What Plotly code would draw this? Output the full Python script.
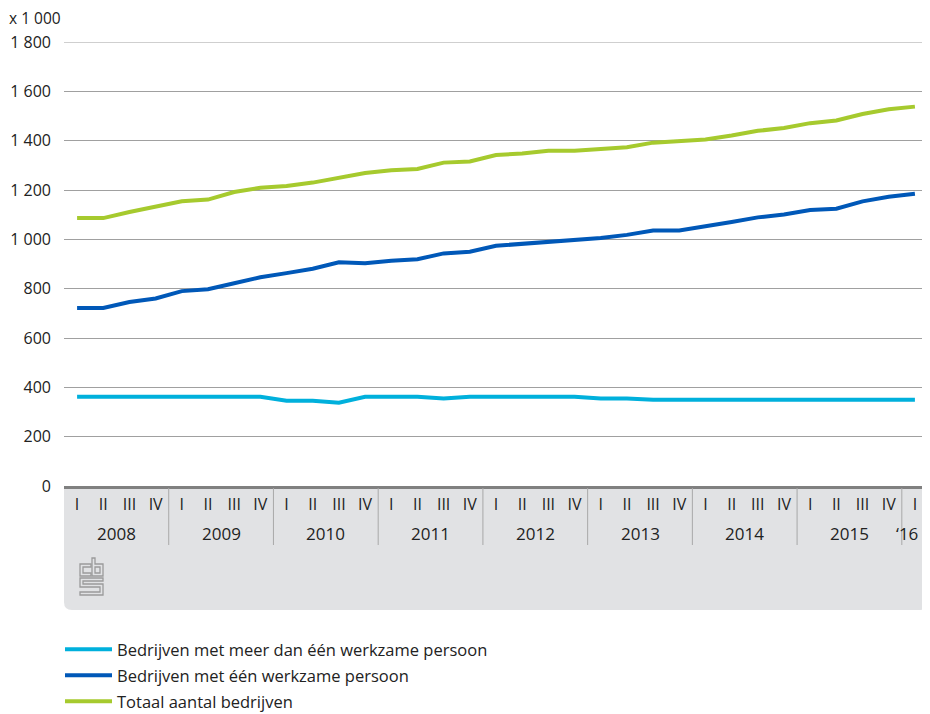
import plotly.graph_objects as go

years = ["2008", "2009", "2010", "2011", "2012", "2013", "2014", "2015", "\u201816"]
quarters = ["I", "II", "III", "IV"]
categories = [f"{y}-{q}" for y in years[:-1] for q in quarters] + ["2016-I"]
tick_labels = quarters * 8 + ["I"]

meer_dan_een = [362, 362, 362, 362, 362, 362, 362, 362,
                346, 346, 338, 362, 362, 362, 355, 362,
                362, 362, 362, 362, 355, 355, 350, 350,
                350, 350, 350, 350, 350, 350, 350, 350, 350]
een_persoon = [722, 722, 746, 760, 790, 798, 822, 846,
               863, 881, 907, 903, 913, 919, 943, 950,
               974, 981, 992, 998, 1005, 1018, 1036, 1036,
               1051, 1070, 1089, 1101, 1119, 1124, 1154, 1173, 1185]
totaal = [1086, 1086, 1111, 1131, 1154, 1161, 1192, 1209,
          1216, 1230, 1250, 1269, 1280, 1285, 1311, 1316,
          1342, 1348, 1359, 1359, 1366, 1373, 1392, 1398,
          1405, 1421, 1440, 1451, 1471, 1482, 1508, 1527, 1538]

series_names = ["Bedrijven met meer dan één werkzame persoon",
                "Bedrijven met één werkzame persoon",
                "Totaal aantal bedrijven"]
series_colors = ["#00b0dc", "#0058b8", "#a6ca2e"]
series_values = [meer_dan_een, een_persoon, totaal]
y_ticks = [0, 200, 400, 600, 800, 1000, 1200, 1400, 1600, 1800]

FONT = "Open Sans"
TXT = "#222222"
GRID = "#a0a0a0"

fig = go.Figure()
for i, (name, col, vals) in enumerate(zip(series_names, series_colors, series_values)):
    fig.add_trace(go.Scatter(x=categories, y=vals, mode="lines", name=name,
                             legendgroup=f"g{i}",
                             line=dict(color=col, width=4)))

# the page adds an 8px body margin; the figure is sized to fit inside it
OFF = 8
W, H = 930 - OFF, 714 - OFF
ml, mr, mt, mb = 64 - OFF, 2, 42 - OFF, 228
pw = W - ml - mr
ph = H - mt - mb

def py(pix):
    return (486 - pix) / ph

def px(pix):
    return (pix - 64) / pw

shapes = []
# grey band below axis with rounded bottom corners
yb = py(610)
rx = 8 / pw
ry = 8 / ph
shapes.append(dict(type="path", xref="paper", yref="paper", layer="below",
                   path=f"M 0,0 L 1,0 L 1,{yb+ry} Q 1,{yb} {1-rx},{yb} L {rx},{yb} Q 0,{yb} 0,{yb+ry} Z",
                   fillcolor="#e1e2e4", line=dict(width=0)))
# top gridline (plotly omits the gridline on the plot edge)
shapes.append(dict(type="line", xref="paper", yref="y", x0=0, x1=1, y0=y_ticks[-1], y1=y_ticks[-1],
                   line=dict(color=GRID, width=1), layer="below"))
# year separators
for k in range(1, 9):
    shapes.append(dict(type="line", xref="x", yref="paper", x0=4 * k - 0.5, x1=4 * k - 0.5,
                       y0=py(488), y1=py(545), line=dict(color="#a8a8a8", width=1)))

# CBS logo (outline)
logo_paths = [
    [(11, 6), (0, 6), (0, 18), (11, 18), (11, 15), (3, 15), (3, 9), (11, 9)],
    [(12, 0), (15, 0), (15, 6), (23, 6), (23, 18), (12, 18)],
    [(15, 9), (20, 9), (20, 15), (15, 15)],
    [(0, 20), (23, 20), (23, 23), (3, 23), (3, 26), (23, 26), (23, 37), (0, 37), (0, 34), (20, 34), (20, 29), (0, 29)],
]
for pts in logo_paths:
    p = "M " + " L ".join(f"{16 + x},{-72 - y}" for x, y in pts) + " Z"
    shapes.append(dict(type="path", xref="paper", yref="paper", xsizemode="pixel", ysizemode="pixel",
                       xanchor=0, yanchor=0, path=p, line=dict(color="#9a9a9a", width=1.3),
                       fillcolor="rgba(0,0,0,0)", layer="above"))

annotations = [dict(text="x 1 000", xref="paper", yref="paper", x=px(7),
                    y=py(17.5), xanchor="left", yanchor="middle", showarrow=False,
                    font=dict(family=FONT, size=15.5, color=TXT))]
for k, yl in enumerate(years):
    xc = 4 * k + 1.5 if k < 8 else 31.7
    annotations.append(dict(text=yl, xref="x", yref="paper", x=xc, y=py(533),
                            xanchor="center", yanchor="middle", showarrow=False,
                            font=dict(family=FONT, size=17, color=TXT)))

fig.update_layout(
    width=W, height=H,
    margin=dict(l=ml, r=mr, t=mt, b=mb, autoexpand=False),
    paper_bgcolor="white", plot_bgcolor="white",
    separators=", ",
    font=dict(family=FONT, size=16, color=TXT),
    shapes=shapes, annotations=annotations,
    showlegend=True,
    legend=dict(x=px(60), y=py(632), xanchor="left", yanchor="top",
                orientation="v", itemwidth=47, tracegroupgap=1.5,
                font=dict(family=FONT, size=16.5, color=TXT),
                bgcolor="rgba(0,0,0,0)"),
    xaxis=dict(type="category", categoryorder="array", categoryarray=categories,
               tickmode="array", tickvals=categories, ticktext=tick_labels,
               range=[-0.5, 32.5], showgrid=False, zeroline=False,
               showline=True, linecolor="#808080", linewidth=3,
               ticks="", ticklabelstandoff=2,
               tickfont=dict(family=FONT, size=16, color=TXT),
               fixedrange=True),
    yaxis=dict(range=[0, 1800], tickvals=y_ticks,
               tickformat=",d", showgrid=True, gridcolor=GRID, gridwidth=1,
               zeroline=False, showline=False, ticks="",
               ticklabelstandoff=12,
               tickfont=dict(family=FONT, size=16, color=TXT), fixedrange=True),
)

fig.write_html("out.html")
